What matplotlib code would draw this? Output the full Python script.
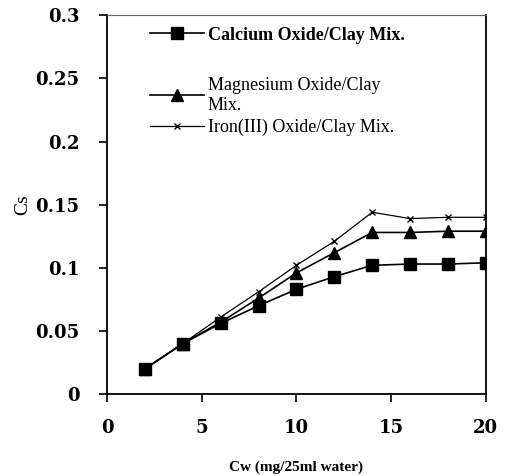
import matplotlib.pyplot as plt
import numpy as np

# Datos
cw = [2, 4, 6, 8, 10, 12, 14, 16, 18, 20]
cs_calcio = [0.020, 0.040, 0.056, 0.070, 0.083, 0.093, 0.102, 0.103, 0.103, 0.104]
cs_magnesio = [0.020, 0.040, 0.057, 0.076, 0.096, 0.112, 0.128, 0.128, 0.129, 0.129]
cs_hierro = [0.020, 0.040, 0.061, 0.081, 0.102, 0.121, 0.144, 0.139, 0.140, 0.140]

etiquetas = ['Calcium Oxide/Clay Mix.', 'Magnesium Oxide/Clay\nMix.', 'Iron(III) Oxide/Clay Mix.']
xticks = [0, 5, 10, 15, 20]
yticks = [0, 0.05, 0.1, 0.15, 0.2, 0.25, 0.3]
yticklabels = ['0', '0.05', '0.1', '0.15', '0.2', '0.25', '0.3']

plt.rcParams['font.family'] = ['Liberation Serif', 'DejaVu Serif']

fig = plt.figure(figsize=(5.05, 4.76), dpi=100)
ax = fig.add_axes([0.212, 0.172, 0.750, 0.796])

l1, = ax.plot(cw, cs_calcio, color='black', lw=1.2, marker='s', markersize=9)
l2, = ax.plot(cw, cs_magnesio, color='black', lw=1.2, marker='^', markersize=9)
l3, = ax.plot(cw, cs_hierro, color='black', lw=0.9, marker='x', markersize=5, markeredgewidth=1)

ax.set_xlim(0, 20)
ax.set_ylim(0, 0.3)
ax.set_xticks(xticks)
ax.set_xticklabels([str(t) for t in xticks], fontsize=13, fontweight='bold', family='DejaVu Serif')
ax.set_yticks(yticks)
ax.set_yticklabels(yticklabels, fontsize=13, fontweight='bold', family='DejaVu Serif')
ax.tick_params(direction='out', length=6, width=1.2)
ax.tick_params(axis='y', pad=14)
ax.tick_params(axis='x', pad=12)

for s in ['left', 'bottom', 'right']:
    ax.spines[s].set_linewidth(1.3)
ax.spines['top'].set_linewidth(0.8)
ax.spines['top'].set_color('#666666')
ax.spines['top'].set_linestyle((0, (2, 1)))

ax.set_xlabel('Cw (mg/25ml water)', fontsize=11, fontweight='bold', labelpad=17)
ax.set_ylabel('Cs', fontsize=14, labelpad=3)

leg1 = ax.legend([l1], [etiquetas[0]], loc='upper left', bbox_to_anchor=(0.07, 1.013),
                 frameon=False, handlelength=3.0, handletextpad=0.2,
                 prop={'size': 13, 'weight': 'bold'})
ax.add_artist(leg1)
ax.legend([l2, l3], etiquetas[1:], loc='upper left', bbox_to_anchor=(0.07, 0.88),
          frameon=False, handlelength=3.0, handletextpad=0.2, labelspacing=0.3,
          prop={'size': 13})

fig.savefig('out.png', dpi=100)
